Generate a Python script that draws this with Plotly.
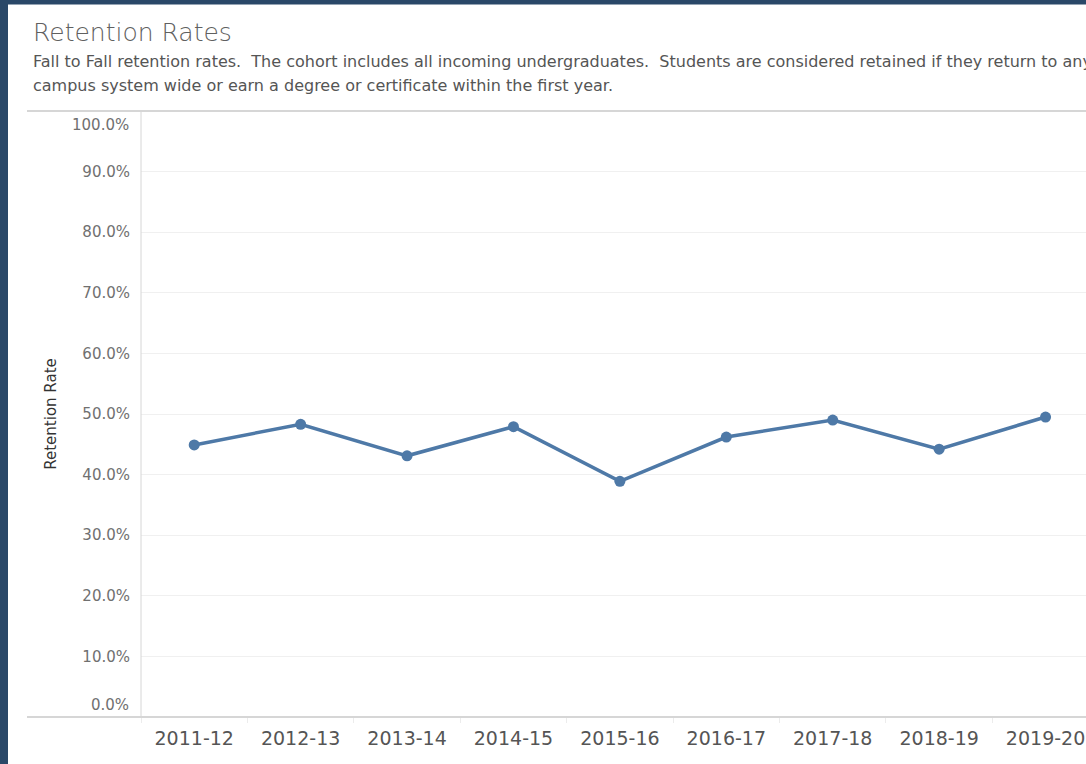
import plotly.graph_objects as go

years = ["2011-12", "2012-13", "2013-14", "2014-15", "2015-16",
         "2016-17", "2017-18", "2018-19", "2019-20"]
retention = [0.449, 0.483, 0.431, 0.479, 0.389, 0.462, 0.490, 0.442, 0.495]
y_ticks = [0.1, 0.2, 0.3, 0.4, 0.5, 0.6, 0.7, 0.8, 0.9]

W, H = 1086, 764
L, T, B = 141, 111, 717
PW, PH = W - L, B - T

def px_x(p):
    return (p - L) / PW

def px_y(p):
    return (B - p) / PH

LINE_BLUE = "#4e79a7"
BORDER = "#2a4868"
GRID = "#f0f0f0"
AXIS = "#d6d6d6"
FONT = "DejaVu Sans"

fig = go.Figure()
fig.add_trace(go.Scatter(
    x=years, y=retention, mode="lines+markers",
    line=dict(color=LINE_BLUE, width=3.5),
    marker=dict(color=LINE_BLUE, size=11),
    hovertemplate="%{x}: %{y:.1%}<extra></extra>",
))

fig.update_layout(
    width=W, height=H,
    margin=dict(l=L, r=0, t=T, b=H - B),
    paper_bgcolor="white", plot_bgcolor="white",
    showlegend=False,
    font=dict(family=FONT, color="#555555"),
    xaxis=dict(
        type="category", range=[-0.5, 8.38],
        tickson="boundaries", ticks="outside", ticklen=5, tickcolor="#ececec",
        showgrid=False, zeroline=False, showline=False,
        ticklabelstandoff=8,
        tickfont=dict(size=19, color="#555555"),
    ),
    yaxis=dict(
        range=[0, 1], tickvals=y_ticks, tickformat=".1%",
        showgrid=True, gridcolor=GRID, gridwidth=1, zeroline=False,
        showline=False, ticks="", ticklabelstandoff=10,
        tickfont=dict(size=15, color="#707070"),
        title=dict(text="Retention Rate", font=dict(size=15, color="#333333"), standoff=22),
    ),
)

fig.add_annotation(x=px_x(131), y=0, xref="paper", yref="y", text="0.0%", showarrow=False,
                   xanchor="right", yanchor="middle", yshift=12,
                   font=dict(size=15, color="#707070", family=FONT))
fig.add_annotation(x=px_x(131), y=1, xref="paper", yref="y", text="100.0%", showarrow=False,
                   xanchor="right", yanchor="middle", yshift=-14,
                   font=dict(size=15, color="#707070", family=FONT))

fig.add_annotation(x=px_x(31), y=px_y(32), xref="paper", yref="paper", text="Retention Rates",
                   showarrow=False, xanchor="left", yanchor="middle",
                   font=dict(size=25, color="#606060", family=FONT, weight=200))
fig.add_annotation(x=px_x(31), y=px_y(61), xref="paper", yref="paper",
                   text="Fall to Fall retention rates.  The cohort includes all incoming undergraduates.  Students are considered retained if they return to any",
                   showarrow=False, xanchor="left", yanchor="middle",
                   font=dict(size=16, color="#555555", family=FONT))
fig.add_annotation(x=px_x(31), y=px_y(86), xref="paper", yref="paper",
                   text="campus system wide or earn a degree or certificate within the first year.",
                   showarrow=False, xanchor="left", yanchor="middle",
                   font=dict(size=16, color="#555555", family=FONT))

shapes = [
    dict(type="line", xref="paper", yref="paper", x0=px_x(27), x1=1, y0=1, y1=1,
         line=dict(color=AXIS, width=2)),
    dict(type="line", xref="paper", yref="paper", x0=px_x(27), x1=1, y0=0, y1=0,
         line=dict(color=AXIS, width=2)),
    dict(type="line", xref="paper", yref="paper", x0=0, x1=0, y0=0, y1=1,
         line=dict(color=AXIS, width=1)),
    dict(type="rect", xref="paper", yref="paper", x0=px_x(0), x1=px_x(8), y0=px_y(H), y1=px_y(0),
         line=dict(width=0), fillcolor=BORDER),
    dict(type="rect", xref="paper", yref="paper", x0=px_x(0), x1=px_x(W), y0=px_y(4.5), y1=px_y(0),
         line=dict(width=0), fillcolor=BORDER),
]
fig.update_layout(shapes=shapes)

fig.write_html(
    "out.html",
    config={"displayModeBar": False},
    post_script="document.body.style.margin='0';document.body.style.padding='0';document.body.style.overflow='hidden';",
)
